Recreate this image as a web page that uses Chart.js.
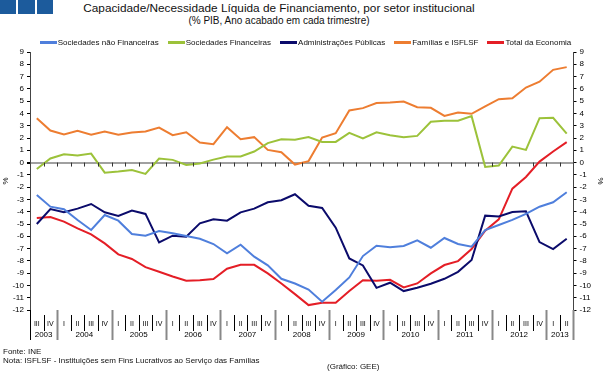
<!DOCTYPE html>
<html lang="pt">
<head>
<meta charset="UTF-8">
<title>Capacidade/Necessidade Líquida de Financiamento</title>
<script src="https://cdn.jsdelivr.net/npm/chart.js"></script>
<style>
  body { margin: 0; background: #fff; font-family: "Liberation Sans", Arial, sans-serif; }
  .wrap { position: relative; width: 611px; height: 389px; overflow: hidden; }
  .logo { position: absolute; top: 0; width: 16px; height: 14px; background: #1c5b9c; }
  .title { position: absolute; left: 79px; width: 400px; text-align: center; color: #111; white-space: nowrap; }
  .note { position: absolute; font-size: 8px; color: #111; white-space: nowrap; }
  .legend { position: absolute; left: 0; width: 611px; top: 38px; display: flex; justify-content: center;
            gap: 9px; font-size: 8px; color: #111; white-space: nowrap; z-index: 2; }
  .legend span { display: flex; align-items: center; }
  .legend i { display: inline-block; width: 17px; height: 3px; margin-right: 1px; }
  canvas { position: absolute; left: 0; top: 0; }
</style>
</head>
<body>
<div class="wrap">
  <div class="logo" style="left:0"></div>
  <div class="logo" style="left:18px;width:17px"></div>
  <div class="logo" style="left:37px"></div>
  <div class="title" style="top:1px;font-size:11.8px">Capacidade/Necessidade Líquida de Financiamento, por setor institucional</div>
  <div class="title" style="top:15px;font-size:10px">(% PIB, Ano acabado em cada trimestre)</div>
  <canvas id="chart" width="611" height="389"></canvas>
  <div class="legend" id="legend"></div>
  <div class="note" style="left:3px;top:347px">Fonte: INE</div>
  <div class="note" style="left:3px;top:356px">Nota: ISFLSF - Instituições sem Fins Lucrativos ao Serviço das Famílias</div>
  <div class="note" style="left:327px;top:362px">(Gráfico: GEE)</div>
</div>

<script>
// trimestres (ano acabado em cada trimestre), 2003 III .. 2013 II
const years = ['2003','2003',
  '2004','2004','2004','2004', '2005','2005','2005','2005', '2006','2006','2006','2006',
  '2007','2007','2007','2007', '2008','2008','2008','2008', '2009','2009','2009','2009',
  '2010','2010','2010','2010', '2011','2011','2011','2011', '2012','2012','2012','2012',
  '2013','2013'];
const quarters = ['III','IV',
  'I','II','III','IV', 'I','II','III','IV', 'I','II','III','IV',
  'I','II','III','IV', 'I','II','III','IV', 'I','II','III','IV',
  'I','II','III','IV', 'I','II','III','IV', 'I','II','III','IV',
  'I','II'];
const labels = years.map((y, i) => y + ' ' + quarters[i]);

const sociedadesNaoFinanceiras = [-2.64,-3.59,-3.8,-4.67,-5.49,-4.27,-4.73,-5.82,-5.95,-5.57,
  -5.76,-5.98,-6.2,-6.63,-7.39,-6.68,-7.66,-8.37,-9.46,-9.84,
  -10.33,-11.33,-10.38,-9.35,-7.61,-6.77,-6.9,-6.79,-6.33,-6.93,
  -6.14,-6.63,-6.85,-5.49,-5.08,-4.67,-4.18,-3.59,-3.23,-2.42];
const sociedadesFinanceiras = [-0.52,0.33,0.68,0.57,0.73,-0.82,-0.73,-0.6,-0.92,0.33,
  0.22,-0.19,-0.08,0.24,0.49,0.49,0.9,1.58,1.9,1.85,
  2.07,1.68,1.68,2.42,1.96,2.47,2.23,2.07,2.17,3.32,
  3.4,3.4,3.78,-0.35,-0.24,1.3,1.03,3.61,3.64,2.36];
const administracoesPublicas = [-5.0,-3.78,-4.05,-3.75,-3.37,-4.05,-4.35,-3.91,-4.18,-6.5,
  -5.95,-6.03,-4.95,-4.62,-4.73,-4.05,-3.75,-3.23,-3.07,-2.58,
  -3.51,-3.7,-5.3,-7.8,-8.37,-10.2,-9.78,-10.46,-10.19,-9.86,
  -9.46,-8.89,-7.93,-4.32,-4.38,-4.02,-3.97,-6.47,-7.04,-6.2];
const familiasISFLSF = [3.61,2.61,2.28,2.58,2.26,2.53,2.26,2.45,2.53,2.85,
  2.23,2.47,1.63,1.5,2.88,1.9,2.07,1.03,0.84,-0.16,
  0.12,2.04,2.39,4.24,4.43,4.84,4.89,4.97,4.51,4.46,
  3.8,4.08,3.97,4.57,5.16,5.24,6.11,6.58,7.55,7.77];
const totalEconomia = [-4.51,-4.43,-4.81,-5.35,-5.84,-6.58,-7.47,-7.85,-8.51,-8.89,
  -9.27,-9.62,-9.57,-9.48,-8.64,-8.32,-8.32,-9.02,-9.84,-10.71,
  -11.6,-11.41,-11.41,-10.46,-9.57,-9.62,-9.54,-10.16,-9.84,-9.02,
  -8.34,-8.02,-7.04,-5.54,-4.62,-2.12,-1.17,0.08,0.9,1.66];

const FONT = '"Liberation Sans", Arial, sans-serif';

const serie = (label, data, color) => ({
  label: label, data: data, borderColor: color, backgroundColor: color,
  borderWidth: 2, pointRadius: 0, tension: 0, yAxisID: 'y'
});

// eixo das categorias desenhado à mão (trimestres, anos e separadores)
const quarterAxis = {
  id: 'quarterAxis',
  afterDraw(chart) {
    const ctx = chart.ctx, xs = chart.scales.x, ca = chart.chartArea;
    const w = xs.getPixelForValue(1) - xs.getPixelForValue(0);
    const y0 = chart.scales.y.getPixelForValue(0);
    const b = ca.bottom;
    ctx.save();
    // pequenos traços sobre a linha do zero
    ctx.strokeStyle = '#333';
    ctx.lineWidth = 1;
    for (let k = 1; k < labels.length; k++) {
      const x = Math.round(xs.getPixelForValue(k) - w / 2) + 0.5;
      ctx.beginPath(); ctx.moveTo(x, y0); ctx.lineTo(x, y0 + 4); ctx.stroke();
    }
    // separadores
    for (let k = 0; k <= labels.length; k++) {
      const x = Math.round(xs.getPixelForValue(k) - w / 2);
      const yearStart = k === 0 || k === labels.length || quarters[k] === 'I';
      ctx.beginPath();
      if (yearStart) {
        ctx.strokeStyle = (k === 0) ? '#000' : '#888';
        ctx.lineWidth = (k === 0) ? 1 : 2;
        ctx.moveTo(x + 0.5, b); ctx.lineTo(x + 0.5, b + 30);
      } else {
        ctx.strokeStyle = '#000';
        ctx.lineWidth = 1;
        ctx.moveTo(x + 0.5, b + 5); ctx.lineTo(x + 0.5, b + 21);
      }
      ctx.stroke();
    }
    // etiquetas
    ctx.fillStyle = '#000';
    ctx.textAlign = 'center';
    ctx.textBaseline = 'middle';
    ctx.font = '7px ' + FONT;
    quarters.forEach((q, i) => ctx.fillText(q, xs.getPixelForValue(i), b + 14));
    ctx.font = '8px ' + FONT;
    [...new Set(years)].forEach(y => {
      const first = years.indexOf(y), last = years.lastIndexOf(y);
      const x = (xs.getPixelForValue(first) + xs.getPixelForValue(last)) / 2;
      ctx.fillText(y, x, b + 25);
    });
    ctx.restore();
  }
};

const yTicks = {
  min: -12, max: 9,
  ticks: { stepSize: 1, autoSkip: false, color: '#000', font: { size: 8, family: FONT }, padding: 3 },
  border: { display: true, color: '#444', width: 1 },
  title: { display: true, text: '%', color: '#000', font: { size: 8, family: FONT } }
};

const chart = new Chart(document.getElementById('chart'), {
  type: 'line',
  data: {
    labels: labels,
    datasets: [
      serie('Sociedades não Financeiras', sociedadesNaoFinanceiras, '#4f7fdc'),
      serie('Sociedades Financeiras', sociedadesFinanceiras, '#9cc23a'),
      serie('Administrações Públicas', administracoesPublicas, '#0b0b6b'),
      serie('Famílias e ISFLSF', familiasISFLSF, '#ed7d31'),
      serie('Total da Economia', totalEconomia, '#e41e26')
    ]
  },
  options: {
    responsive: false,
    animation: false,
    devicePixelRatio: 1,
    layout: { padding: { top: 52, bottom: 79, left: 0, right: 0 } },
    plugins: {
      legend: { display: false },
      tooltip: { enabled: false }
    },
    scales: {
      x: { display: false, offset: true },
      y: Object.assign({}, yTicks, {
        position: 'left',
        title: Object.assign({}, yTicks.title, { padding: { top: 1, bottom: 0 } }),
        grid: {
          drawOnChartArea: true, tickLength: 3, tickColor: '#000',
          color: c => c.tick && c.tick.value === 0 ? '#a0a0a0' : 'transparent',
          lineWidth: c => c.tick && c.tick.value === 0 ? 2 : 1
        },
        afterFit: s => { s.width = 30; }
      }),
      y2: Object.assign({}, yTicks, {
        position: 'right',
        title: Object.assign({}, yTicks.title, { padding: { top: 6, bottom: 0 } }),
        grid: { drawOnChartArea: false, tickLength: 3, tickColor: '#000' },
        afterFit: s => { s.width = 37.5; }
      })
    }
  },
  plugins: [quarterAxis]
});

// legenda em HTML, a partir dos datasets
document.getElementById('legend').innerHTML = chart.data.datasets
  .map(d => '<span><i style="background:' + d.borderColor + '"></i>' + d.label + '</span>')
  .join('');
</script>
</body>
</html>
